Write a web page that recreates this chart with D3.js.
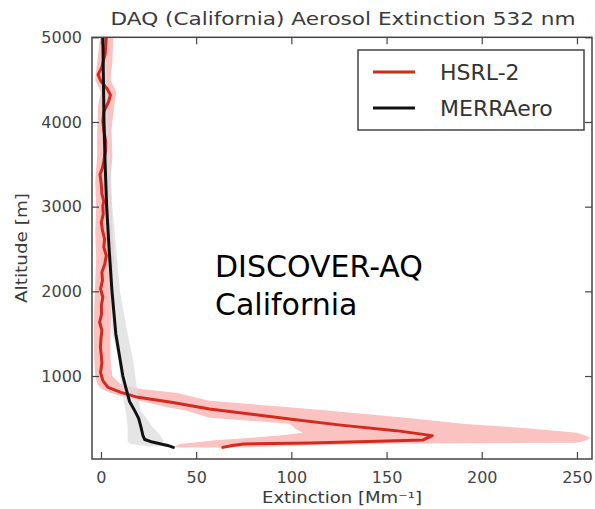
<!DOCTYPE html>
<html>
<head>
<meta charset="utf-8">
<script src="https://cdn.jsdelivr.net/npm/d3@7"></script>
<style>
  html, body { margin: 0; padding: 0; background: #fff; }
  svg { display: block; }
</style>
</head>
<body>
<svg id="chart" width="595" height="509"></svg>
<script>
// ---- HSRL-2 median profile (altitude m, extinction Mm^-1) ----
const hsrlAlt = [157, 180, 197, 209, 236, 244, 296, 355, 420, 493, 560, 611, 689, 748, 807, 866, 945,
  1000, 1044, 1150, 1241, 1340, 1440, 1540, 1635, 1730, 1832, 1930, 2030, 2130, 2226, 2320, 2423,
  2520, 2620, 2720, 2815, 2910, 3010, 3065, 3150, 3225, 3300, 3380, 3460, 3540, 3660, 3775, 3900,
  4010, 4120, 4240, 4320, 4400, 4480, 4560, 4650, 4800, 4900, 5000];
const hsrlExt = [64, 69, 75, 110, 155, 169, 174, 155, 126, 99, 75, 57, 37, 19.4, 10.5, 3.7, 1.0,
  0.3, -0.2, 0.5, 0.2, -0.3, 0.0, 0.5, -0.7, 0.3, 0.2, 1.0, -0.2, 0.8, 0.5, 2.0, 2.8,
  1.5, 1.9, 0.8, 0.2, 1.2, 1.0, 1.5, 0.5, 0.3, 0.0, -0.5, 0.8, 1.5, 2.5, 2.5, 1.5,
  1.0, 1.5, 4.0, 5.0, 3.0, 0.0, -1.5, 0.5, 2.2, 2.5, 2.8];

// ---- HSRL-2 spread (shaded) ----
const hsrlBandAlt = [157, 180, 200, 212, 240, 272, 300, 330, 380, 437, 508, 590, 630, 709, 800, 850, 910,
  1000, 1200, 1500, 1800, 2100, 2400, 2700, 3000, 3300, 3600, 3900, 4200, 4350, 4500, 4700, 5000];
const hsrlBandLo = [38, 40, 42, 48, 60, 80, 95, 106, 102, 99, 57, 45, 35, 20, 5, 0, -2,
  -3, -3.5, -3.8, -3.5, -3, -2.5, -3, -2.5, -3, -2, -2, -1.5, 0, -3, -2, -0.5];
const hsrlBandHi = [75, 110, 150, 250, 255, 257, 254, 250, 225, 190, 160, 120, 99, 57, 40, 20, 10,
  6, 5, 5, 5.5, 6, 7, 6, 5.5, 5, 6, 5.5, 7, 8, 5, 6, 6.5];

// ---- MERRAero profile ----
const merraAlt = [157, 180, 200, 220, 250, 300, 400, 500, 600, 700, 850, 1000, 1200, 1500, 2000,
  2500, 3000, 3500, 4000, 4500, 5000];
const merraExt = [38, 35, 31, 27, 23, 22, 21, 19.8, 17.5, 15, 13.2, 11.5, 10, 7.8, 5.8,
  4.3, 3.0, 2.2, 1.6, 1.3, 1.0];

// ---- MERRAero spread (shaded) ----
const merraBandAlt = [170, 200, 230, 300, 400, 500, 590, 700, 850, 1000, 1180, 1500, 2000,
  2500, 3000, 3500, 4000, 4500, 5000];
const merraBandLo = [25, 15, 14, 14, 14, 13.5, 13, 12, 11, 10, 9.5, 6, 4.5, 3.5, 2.5, 2, 1.2, 0.8, 0.5];
const merraBandHi = [38, 30, 33, 31, 27, 24, 21, 20, 19, 18, 17, 14, 10, 8, 6, 5, 4, 3, 2.5];

// ---- axes ----
const xTicks = [0, 50, 100, 150, 200, 250];
const yTicks = [1000, 2000, 3000, 4000, 5000];
const xDomain = [-4.7, 257.9];
const yDomain = [20, 5000];

const titleText = "DAQ (California) Aerosol Extinction 532 nm";
const xLabel = "Extinction [Mm\u207B\u00B9]";
const yLabel = "Altitude [m]";
const legendNames = ["HSRL-2", "MERRAero"];
const noteLines = ["DISCOVER-AQ", "California"];

const colors = { hsrl: "#d42a1e", hsrlFill: "#f9b9b6", merra: "#111111", merraFill: "#dcdcdc", axis: "#444" };

const svg = d3.select("#chart");
const plot = { left: 92, right: 592, top: 37.3, bottom: 459 };

const x = d3.scaleLinear().domain(xDomain).range([plot.left, plot.right]);
const y = d3.scaleLinear().domain(yDomain).range([plot.bottom, plot.top]);

svg.append("clipPath").attr("id", "plotclip")
  .append("rect").attr("x", plot.left).attr("y", plot.top)
  .attr("width", plot.right - plot.left).attr("height", plot.bottom - plot.top);

const g = svg.append("g").attr("clip-path", "url(#plotclip)");

function bandData(alt, lo, hi) { return alt.map((a, i) => ({ a, lo: lo[i], hi: hi[i] })); }
function lineData(alt, v) { return alt.map((a, i) => ({ a, v: v[i] })); }

const area = d3.area().y(d => y(d.a)).x0(d => x(d.lo)).x1(d => x(d.hi)).curve(d3.curveLinear);
const line = d3.line().y(d => y(d.a)).x(d => x(d.v)).curve(d3.curveLinear);

g.append("path").datum(bandData(hsrlBandAlt, hsrlBandLo, hsrlBandHi))
  .attr("d", area).attr("fill", colors.hsrlFill).attr("opacity", 0.85);
g.append("path").datum(bandData(merraBandAlt, merraBandLo, merraBandHi))
  .attr("d", area).attr("fill", colors.merraFill).attr("opacity", 0.75);

g.append("path").datum(lineData(hsrlAlt, hsrlExt))
  .attr("d", line).attr("fill", "none").attr("stroke", colors.hsrl)
  .attr("stroke-width", 3).attr("stroke-linejoin", "round").attr("stroke-linecap", "round");
g.append("path").datum(lineData(merraAlt, merraExt))
  .attr("d", line).attr("fill", "none").attr("stroke", colors.merra)
  .attr("stroke-width", 3).attr("stroke-linejoin", "round").attr("stroke-linecap", "round");

// frame with inward ticks on all four sides
const tickLen = 7;
const axisFont = "DejaVu Sans, sans-serif";

const xb = svg.append("g").attr("transform", `translate(0,${plot.bottom})`)
  .call(d3.axisBottom(x).tickValues(xTicks).tickSize(-tickLen).tickPadding(tickLen + 6).tickFormat(d3.format("d")));
const xt = svg.append("g").attr("transform", `translate(0,${plot.top})`)
  .call(d3.axisTop(x).tickValues(xTicks).tickSize(-tickLen).tickFormat(""));
const yl = svg.append("g").attr("transform", `translate(${plot.left},0)`)
  .call(d3.axisLeft(y).tickValues(yTicks).tickSize(-tickLen).tickPadding(tickLen + 3).tickFormat(d3.format("d")));
const yr = svg.append("g").attr("transform", `translate(${plot.right},0)`)
  .call(d3.axisRight(y).tickValues(yTicks).tickSize(-tickLen).tickFormat(""));

[xb, xt, yl, yr].forEach(a => {
  a.select(".domain").remove();
  a.selectAll(".tick line").attr("stroke", colors.axis).attr("stroke-width", 1.2);
  a.selectAll("text").attr("fill", "#444").attr("font-family", axisFont).attr("font-size", 16);
});
xb.selectAll("text").attr("dy", "0.71em");

svg.append("rect").attr("x", plot.left).attr("y", plot.top)
  .attr("width", plot.right - plot.left).attr("height", plot.bottom - plot.top)
  .attr("fill", "none").attr("stroke", colors.axis).attr("stroke-width", 1.5);

// titles
svg.append("text").attr("x", 343).attr("y", 25).attr("text-anchor", "middle")
  .attr("font-family", axisFont).attr("font-size", 18).attr("fill", "#3a3a3a")
  .attr("textLength", 465).attr("lengthAdjust", "spacingAndGlyphs").text(titleText);
svg.append("text").attr("x", 342).attr("y", 503).attr("text-anchor", "middle")
  .attr("font-family", axisFont).attr("font-size", 15).attr("fill", "#3a3a3a")
  .attr("textLength", 160).attr("lengthAdjust", "spacingAndGlyphs").text(xLabel);
svg.append("text").attr("transform", "translate(27,248) rotate(-90)").attr("text-anchor", "middle")
  .attr("font-family", axisFont).attr("font-size", 15).attr("fill", "#3a3a3a")
  .attr("textLength", 110).attr("lengthAdjust", "spacingAndGlyphs").text(yLabel);

// legend
const leg = svg.append("g");
leg.append("rect").attr("x", 358).attr("y", 50).attr("width", 226).attr("height", 80)
  .attr("fill", "#fff").attr("stroke", colors.axis).attr("stroke-width", 1.5);
const legColors = [colors.hsrl, colors.merra];
const legY = [72, 108];
legendNames.forEach((name, i) => {
  leg.append("line").attr("x1", 373).attr("x2", 415).attr("y1", legY[i]).attr("y2", legY[i])
    .attr("stroke", legColors[i]).attr("stroke-width", 3);
  leg.append("text").attr("x", 440).attr("y", legY[i] + 8)
    .attr("font-family", axisFont).attr("font-size", 22).attr("fill", "#333").text(name);
});

// annotation
noteLines.forEach((t, i) => {
  svg.append("text").attr("x", 215).attr("y", 277 + i * 38)
    .attr("font-family", "DejaVu Sans, sans-serif").attr("font-size", 30).attr("fill", "#000")
    .text(t);
});
</script>
</body>
</html>
